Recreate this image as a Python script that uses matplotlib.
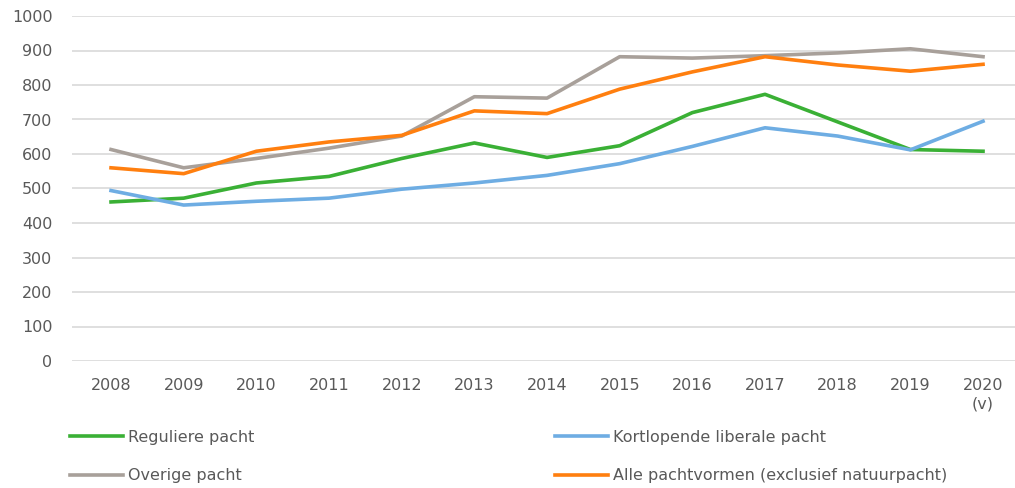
import matplotlib
matplotlib.use("Agg")
import matplotlib.pyplot as plt

years = ["2008", "2009", "2010", "2011", "2012", "2013", "2014",
         "2015", "2016", "2017", "2018", "2019", "2020\n(v)"]
reguliere = [461, 472, 516, 535, 587, 632, 590, 624, 720, 773, 693, 613, 608]
kortlopend = [494, 452, 463, 472, 498, 516, 538, 572, 622, 676, 652, 612, 695]
overige = [613, 560, 587, 617, 652, 766, 762, 882, 878, 885, 893, 905, 882]
alle = [560, 543, 608, 635, 654, 725, 717, 788, 838, 882, 858, 840, 860]

labels = ["Reguliere pacht", "Kortlopende liberale pacht",
          "Overige pacht", "Alle pachtvormen (exclusief natuurpacht)"]
colors = {"green": "#3AB035", "blue": "#6EADE3", "gray": "#A8A09A", "orange": "#FF7F0F"}
text_color = "#595959"

plt.rcParams['font.family'] = ['DejaVu Sans']

fig = plt.figure(figsize=(10.15, 4.88), dpi=100)
ax = fig.add_axes([72/1015, 1 - 361/488, (1015 - 72)/1015, (361 - 16)/488])

x = list(range(len(years)))
l1, = ax.plot(x, reguliere, color=colors["green"], lw=2.6, label=labels[0])
l2, = ax.plot(x, kortlopend, color=colors["blue"], lw=2.6, label=labels[1])
l3, = ax.plot(x, overige, color=colors["gray"], lw=2.6, label=labels[2])
l4, = ax.plot(x, alle, color=colors["orange"], lw=2.6, label=labels[3])

ax.set_xlim(-0.537, 12.44)
ax.set_ylim(0, 1000)
ax.set_yticks(range(0, 1001, 100))
ax.set_xticks(x)
ax.set_xticklabels(years, linespacing=1.3)
ax.grid(axis='y', color="#D9D9D9", lw=1.2)
ax.set_axisbelow(True)
for s in ax.spines.values():
    s.set_visible(False)
ax.tick_params(axis='both', length=0, labelsize=11.5, colors=text_color)
ax.tick_params(axis='x', pad=12)
ax.tick_params(axis='y', pad=14)

common = dict(frameon=False, fontsize=11.5, handlelength=3.3, handletextpad=0.35,
              labelspacing=1.45, labelcolor=text_color, borderaxespad=0, borderpad=0)
leg1 = fig.legend(handles=[l1, l3], loc='upper left',
                  bbox_to_anchor=(70/1015, 1 - 430/488), **common)
leg2 = fig.legend(handles=[l2, l4], loc='upper left',
                  bbox_to_anchor=(555/1015, 1 - 430/488), **common)

fig.savefig("out.png", dpi=100)
